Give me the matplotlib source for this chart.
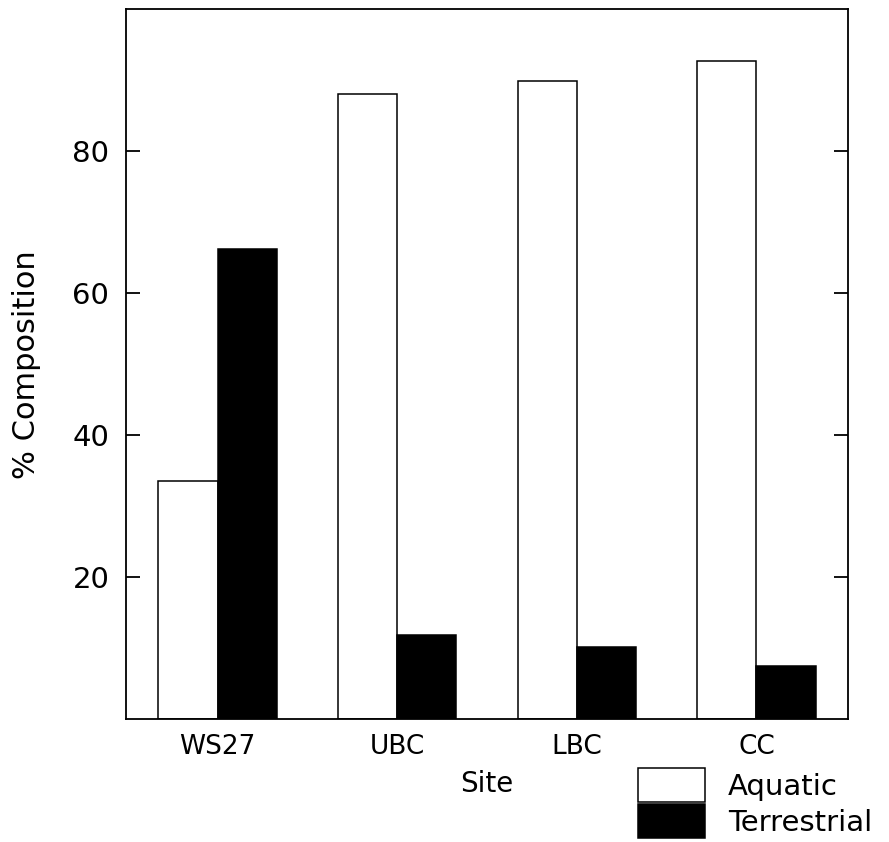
import matplotlib
matplotlib.use("Agg")
import matplotlib.pyplot as plt
import numpy as np
from matplotlib.patches import Patch

sites = ["WS27", "UBC", "LBC", "CC"]
aquatic = [33.5, 88.1, 89.9, 92.8]
terrestrial = [66.3, 11.9, 10.1, 7.5]
yticks = [20, 40, 60, 80]

plt.rcParams["font.family"] = ["DejaVu Sans"]
fs = 19
lw = 1.1

fig = plt.figure(figsize=(8.89, 8.42), dpi=100)
ax = fig.add_axes([0.1417, 0.1461, 0.8122, 0.8427])

x = np.arange(len(sites))
w = 0.33
ax.bar(x - w / 2, aquatic, w, color="white", edgecolor="black", lw=lw)
ax.bar(x + w / 2, terrestrial, w, color="black", edgecolor="black", lw=lw)

ax.set_xlim(-0.51, 3.51)
ax.set_ylim(0, 100)
ax.set_xticks(x)
ax.set_xticklabels(sites, fontsize=fs)
ax.set_yticks(yticks)
ax.set_yticklabels([str(v) for v in yticks], fontsize=fs + 2)
ax.tick_params(axis="x", length=0, pad=11)
ax.tick_params(axis="y", direction="in", length=10, width=lw + 0.2, pad=12,
               left=True, right=True)
for s in ax.spines.values():
    s.set_linewidth(lw + 0.2)

ax.set_ylabel("% Composition", fontsize=fs + 3)
ax.yaxis.set_label_coords(-0.118, 0.5)
ax.set_xlabel("Site", fontsize=fs + 1)
ax.xaxis.set_label_coords(0.5, -0.072)

handles = [Patch(facecolor="white", edgecolor="black", lw=lw),
           Patch(facecolor="black", edgecolor="black", lw=lw)]
fig.legend(handles, ["Aquatic", "Terrestrial"], loc="upper left",
           bbox_to_anchor=(638 / 889, 1 - 768 / 842), frameon=False,
           fontsize=fs + 2, handlelength=2.3, handleheight=1.42,
           handletextpad=0.78, labelspacing=0.08, borderpad=0,
           borderaxespad=0)

fig.savefig("out.png", dpi=100)
